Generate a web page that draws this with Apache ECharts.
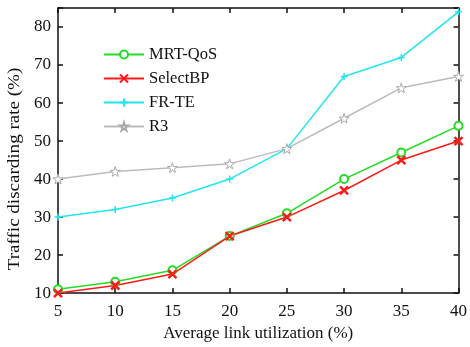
<!DOCTYPE html>
<html><head><meta charset="utf-8">
<script src="https://cdn.jsdelivr.net/npm/echarts@6/dist/echarts.min.js"></script>
<style>html,body{margin:0;padding:0;background:#fff}#c{width:470px;height:347px}</style>
</head><body><div id="c"></div>
<script>
const categories = [5, 10, 15, 20, 25, 30, 35, 40];
const mrtQos = [11, 13, 16, 25, 31, 40, 47, 54];
const selectBP = [10, 12, 15, 25, 30, 37, 45, 50];
const frTe = [30, 32, 35, 40, 48, 67, 72, 84];
const r3 = [40, 42, 43, 44, 48, 56, 64, 67];
const seriesNames = ['MRT-QoS', 'SelectBP', 'FR-TE', 'R3'];
const xTicks = [5, 10, 15, 20, 25, 30, 35, 40];
const yTicks = [10, 20, 30, 40, 50, 60, 70, 80];
const xTitle = 'Average link utilization (%)';
const yTitle = 'Traffic discarding rate (%)';

const FONT = 'Liberation Serif';
const pair = arr => arr.map((v, i) => [categories[i], v]);
const crossPath = 'path://M0,0L10,10M10,0L0,10';
const plusPath = 'path://M5,0L5,10M0,5L10,5';
const starPath = 'path://M50,0L61,35L98,35L68,57L79,91L50,70L21,91L32,57L2,35L39,35Z';

const chart = echarts.init(document.getElementById('c'), null, {renderer: 'canvas'});
const axisBase = {
  axisLine: {show: true, lineStyle: {color: '#111', width: 1.5}},
  axisTick: {show: true, inside: true, length: 5, lineStyle: {color: '#111', width: 1.5}},
  splitLine: {show: false}
};
chart.setOption({
  animation: false,
  backgroundColor: '#fff',
  grid: {left: 58, right: 10, top: 8, bottom: 51, containLabel: false},
  legend: {
    orient: 'vertical', left: 98, top: 41, itemGap: 7,
    itemWidth: 40, itemHeight: 10,
    textStyle: {fontFamily: FONT, fontSize: 16.5, color: '#111'},
    data: seriesNames
  },
  graphic: [{
    type: 'text', x: 15, y: 169, rotation: Math.PI / 2, scaleX: 1.12,
    style: {text: yTitle, fontFamily: FONT, fontSize: 17, fill: '#111',
      align: 'center', verticalAlign: 'middle'}
  }],
  xAxis: [
    Object.assign({}, axisBase, {
      type: 'value', min: 5, max: 40, interval: 5, position: 'bottom',
      name: xTitle, nameLocation: 'middle', nameGap: 30,
      nameTextStyle: {fontFamily: FONT, fontSize: 17, color: '#111'},
      axisLabel: {fontFamily: FONT, fontSize: 17, color: '#111', margin: 10,
        formatter: v => xTicks.includes(v) ? String(v) : ''}
    }),
    Object.assign({}, axisBase, {
      type: 'value', min: 5, max: 40, interval: 5, position: 'top',
      axisLabel: {show: false}
    })
  ],
  yAxis: [
    Object.assign({}, axisBase, {
      type: 'value', min: 10, max: 85, interval: 10, position: 'left',
      axisLabel: {fontFamily: FONT, fontSize: 17, color: '#111', margin: 7,
        formatter: v => yTicks.includes(v) ? String(v) : ''}
    }),
    Object.assign({}, axisBase, {
      type: 'value', min: 10, max: 85, interval: 10, position: 'right',
      axisLabel: {show: false}
    })
  ],
  series: [
    {name: seriesNames[0], type: 'line', data: pair(mrtQos), symbol: 'emptyCircle', symbolSize: 8,
     lineStyle: {color: '#22dd22', width: 1.5}, itemStyle: {color: '#22dd22', borderWidth: 1.5}},
    {name: seriesNames[1], type: 'line', data: pair(selectBP), symbol: crossPath, symbolSize: 8,
     lineStyle: {color: '#ff1a1a', width: 1.5}, itemStyle: {color: '#ff1a1a', borderColor: '#ff1a1a', borderWidth: 2.5}},
    {name: seriesNames[2], type: 'line', data: pair(frTe), symbol: plusPath, symbolSize: 7,
     lineStyle: {color: '#22e5ee', width: 1.5}, itemStyle: {color: '#22e5ee', borderColor: '#22e5ee', borderWidth: 1.5}},
    {name: seriesNames[3], type: 'line', data: pair(r3), symbol: starPath, symbolSize: 10,
     lineStyle: {color: '#bbbbbb', width: 1.5}, itemStyle: {color: '#ffffff', borderColor: '#aaaaaa', borderWidth: 1}}
  ]
});
</script></body></html>
